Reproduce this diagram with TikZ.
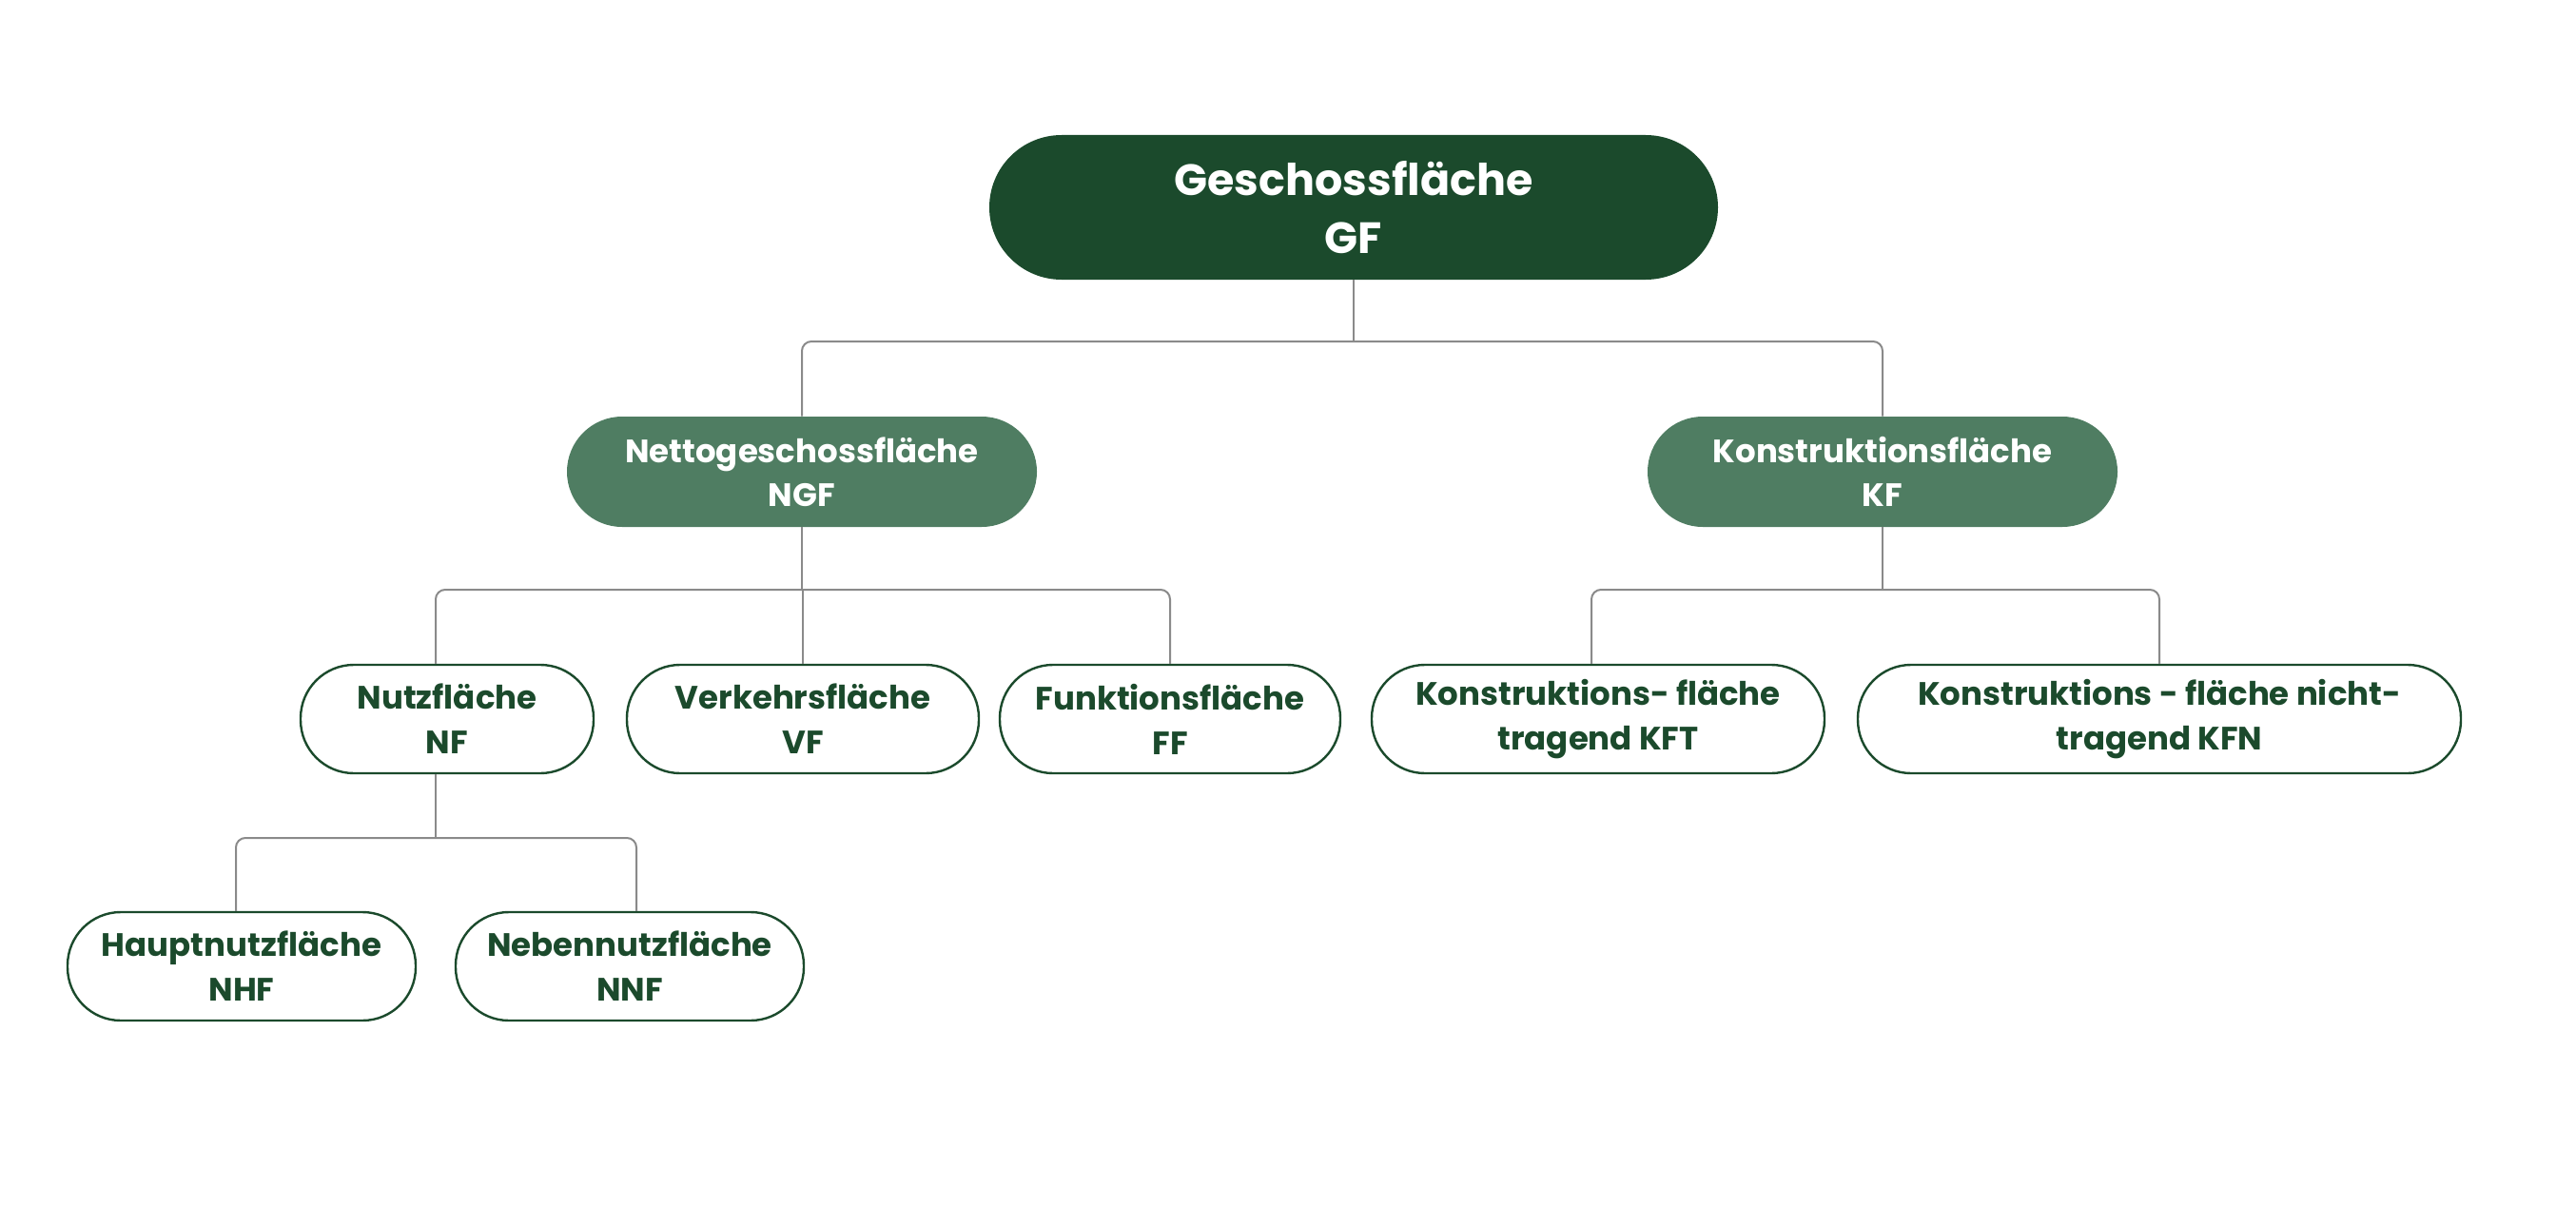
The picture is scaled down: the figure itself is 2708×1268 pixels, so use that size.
\documentclass[tikz,border=0pt]{standalone}
\usepackage{fontspec}
\setmainfont{Poppins}
\definecolor{dgreen}{HTML}{1B4A2C}
\definecolor{mgreen}{HTML}{4F7D62}
\definecolor{conn}{HTML}{8A8A8A}
\begin{document}
\begin{tikzpicture}[x=0.5pt,y=-0.5pt,
  topbox/.style={rectangle, rounded corners=38pt, fill=dgreen, text=white, align=center,
    minimum width=383pt, minimum height=76pt, inner sep=0pt,
    font=\fontsize{23}{30.5}\selectfont\bfseries},
  midbox/.style={rectangle, rounded corners=29pt, fill=mgreen, text=white, align=center,
    minimum width=247pt, minimum height=58pt, inner sep=0pt,
    font=\fontsize{17}{23}\selectfont\bfseries},
  leafbox/.style={rectangle, rounded corners=28pt, draw=dgreen, line width=1.2pt, fill=white,
    text=dgreen, align=center, minimum height=57pt, inner sep=0pt,
    font=\fontsize{17}{23.5}\selectfont\bfseries},
  link/.style={draw=conn, line width=1pt, rounded corners=5pt}]
\useasboundingbox (0,0) rectangle (2708,1268);
\fill[white] (0,0) rectangle (2708,1268);
% nodes
\node[topbox] (gf) at (1423,218) {Geschossfläche\\GF};
\node[midbox] (ngf) at (843,496) {Nettogeschossfläche\\NGF};
\node[midbox] (kf) at (1979,496) {Konstruktionsfläche\\KF};
\node[leafbox, minimum width=154pt] (nf) at (470,756) {Nutzfläche\\NF};
\node[leafbox, minimum width=185pt] (vf) at (844,756) {Verkehrsfläche\\VF};
\node[leafbox, minimum width=179pt] (ff) at (1230,756) {Funktionsfläche\\FF};
\node[leafbox, minimum width=238pt] (kft) at (1680,756) {Konstruktions- fläche\\tragend KFT};
\node[leafbox, minimum width=317pt] (kfn) at (2270,756) {Konstruktions - fläche nicht-\\tragend KFN};
\node[leafbox, minimum width=183pt] (nhf) at (254,1016) {Hauptnutzfläche\\NHF};
\node[leafbox, minimum width=183pt] (nnf) at (662,1016) {Nebennutzfläche\\NNF};
% bus coordinates
\coordinate (b1) at (1423,359);
\coordinate (b2) at (843,620);
\coordinate (b3) at (1979,620);
\coordinate (b4) at (458,881);
\coordinate (kftx) at (1673,0);
\coordinate (nhfx) at (248,0);
\coordinate (nnfx) at (669,0);
% connectors
\draw[link] (gf.south) -- (b1);
\draw[link] (ngf.north) |- (b1) -| (kf.north);
\draw[link] (ngf.south) -- (b2);
\draw[link] (b4 |- nf.north) |- (b2) -| (ff.north);
\draw[link] (vf.north) -- (vf.north |- b2);
\draw[link] (kf.south) -- (b3);
\draw[link] (kftx |- kft.north) |- (b3) -| (kfn.north);
\draw[link] (b4 |- nf.south) -- (b4);
\draw[link] (nhfx |- nhf.north) |- (b4) -| (nnfx |- nnf.north);
\end{tikzpicture}
\end{document}
